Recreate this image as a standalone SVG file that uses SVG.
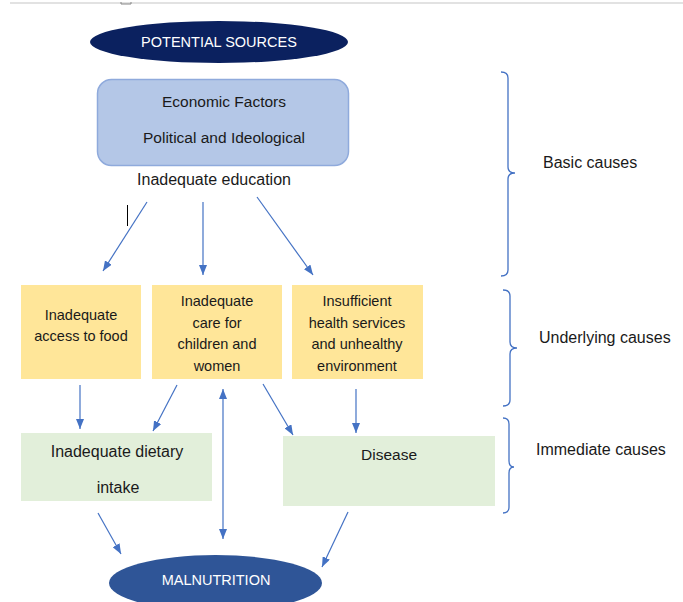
<svg xmlns="http://www.w3.org/2000/svg" width="683" height="602" viewBox="0 0 683 602">
<defs>
<style>
.t{font-family:"Liberation Sans",Arial,sans-serif;font-size:14.5px;fill:#1a1a1a;text-anchor:middle}
.tb{font-family:"Liberation Sans",Arial,sans-serif;font-size:15.5px;fill:#1a1a1a;text-anchor:middle}
.tg{font-family:"Liberation Sans",Arial,sans-serif;font-size:16px;fill:#1a1a1a;text-anchor:middle}
.tl{font-family:"Liberation Sans",Arial,sans-serif;font-size:16px;fill:#1a1a1a}
.w{font-family:"Liberation Sans",Arial,sans-serif;font-size:14.5px;fill:#ffffff;text-anchor:middle}
.yb{fill:#FFE699}
.gb{fill:#E2EFDA}
.c{stroke:#4472C4;stroke-width:1.2;fill:none}
.br{stroke:#4472C4;stroke-width:1.3;fill:none}
</style>
<marker id="ah" viewBox="0 0 10 8" refX="10" refY="4" markerWidth="10" markerHeight="8" markerUnits="userSpaceOnUse" orient="auto-start-reverse">
<path d="M0,0 L10,4 L0,8 Z" fill="#4472C4"/>
</marker>
</defs>
<rect width="683" height="602" fill="#ffffff"/>
<line x1="10" y1="3" x2="683" y2="3" stroke="#e2e2e2" stroke-width="2"/>
<path d="M121,2 L121,4 L131,4 L131,2" stroke="#888" stroke-width="1" fill="none"/>

<g id="potential-sources">
<ellipse cx="219" cy="42" rx="129" ry="21" fill="#0B215F"/>
<text class="w" x="219" y="47">POTENTIAL SOURCES</text>
</g>

<g id="basic-box">
<rect x="97.5" y="79.5" width="251" height="86" rx="14" fill="#B4C7E7" stroke="#8FAADC" stroke-width="1.5"/>
<text class="tb" x="224" y="107">Economic Factors</text>
<text class="tb" x="224" y="143">Political and Ideological</text>
</g>
<g id="inadequate-education">
<text class="tg" x="214" y="185">Inadequate education</text>
</g>
<line x1="127.5" y1="205" x2="127.5" y2="226" stroke="#000" stroke-width="1"/>

<g id="access-food">
<rect class="yb" x="21" y="285" width="120" height="94"/>
<text class="t" x="81" y="320">Inadequate</text>
<text class="t" x="81" y="341">access to food</text>
</g>
<g id="care">
<rect class="yb" x="152" y="285" width="130" height="94"/>
<text class="t" x="217" y="306">Inadequate</text>
<text class="t" x="217" y="328">care for</text>
<text class="t" x="217" y="349">children and</text>
<text class="t" x="217" y="371">women</text>
</g>
<g id="health">
<rect class="yb" x="292" y="285" width="131" height="94"/>
<text class="t" x="357" y="306">Insufficient</text>
<text class="t" x="357" y="328">health services</text>
<text class="t" x="357" y="349">and unhealthy</text>
<text class="t" x="357" y="371">environment</text>
</g>

<g id="dietary">
<rect class="gb" x="21" y="433" width="191" height="68"/>
<text class="tg" x="117" y="457">Inadequate dietary</text>
<text class="tg" x="118" y="493">intake</text>
</g>
<g id="disease">
<rect class="gb" x="283" y="436" width="212" height="70"/>
<text class="tb" x="389" y="460">Disease</text>
</g>

<g id="malnutrition">
<ellipse cx="215.5" cy="583" rx="106.5" ry="28" fill="#2F5597"/>
<text class="w" x="216" y="585">MALNUTRITION</text>
</g>

<g id="connectors">
<line class="c" x1="147" y1="202" x2="103" y2="271" marker-end="url(#ah)"/>
<line class="c" x1="203" y1="202" x2="203" y2="275" marker-end="url(#ah)"/>
<line class="c" x1="257" y1="197" x2="313" y2="275" marker-end="url(#ah)"/>
<line class="c" x1="80" y1="385" x2="80" y2="429" marker-end="url(#ah)"/>
<line class="c" x1="177" y1="385" x2="153" y2="431" marker-end="url(#ah)"/>
<line class="c" x1="263" y1="384" x2="293" y2="435" marker-end="url(#ah)"/>
<line class="c" x1="356" y1="389" x2="356" y2="433" marker-end="url(#ah)"/>
<line class="c" x1="223" y1="389" x2="223" y2="539" marker-start="url(#ah)" marker-end="url(#ah)"/>
<line class="c" x1="98" y1="513" x2="121" y2="554" marker-end="url(#ah)"/>
<line class="c" x1="348" y1="512" x2="322" y2="567" marker-end="url(#ah)"/>
</g>

<g id="basic-causes">
<path class="br" d="M501,72 Q508,72 508,78 L508,167 Q508,173 515,173 Q508,173 508,179 L508,270 Q508,276 501,276"/>
<text class="tl" x="543" y="168" font-size="15.5">Basic causes</text>
</g>
<g id="underlying-causes">
<path class="br" d="M503,290 Q510,290 510,296 L510,342 Q510,348 517,348 Q510,348 510,354 L510,400 Q510,406 503,406"/>
<text class="tl" x="539" y="343">Underlying causes</text>
</g>
<g id="immediate-causes">
<path class="br" d="M503,418 Q509,418 509,424 L509,461 Q509,467 514,467 Q509,467 509,473 L509,507 Q509,513 503,513"/>
<text class="tl" x="536" y="455">Immediate causes</text>
</g>
</svg>
